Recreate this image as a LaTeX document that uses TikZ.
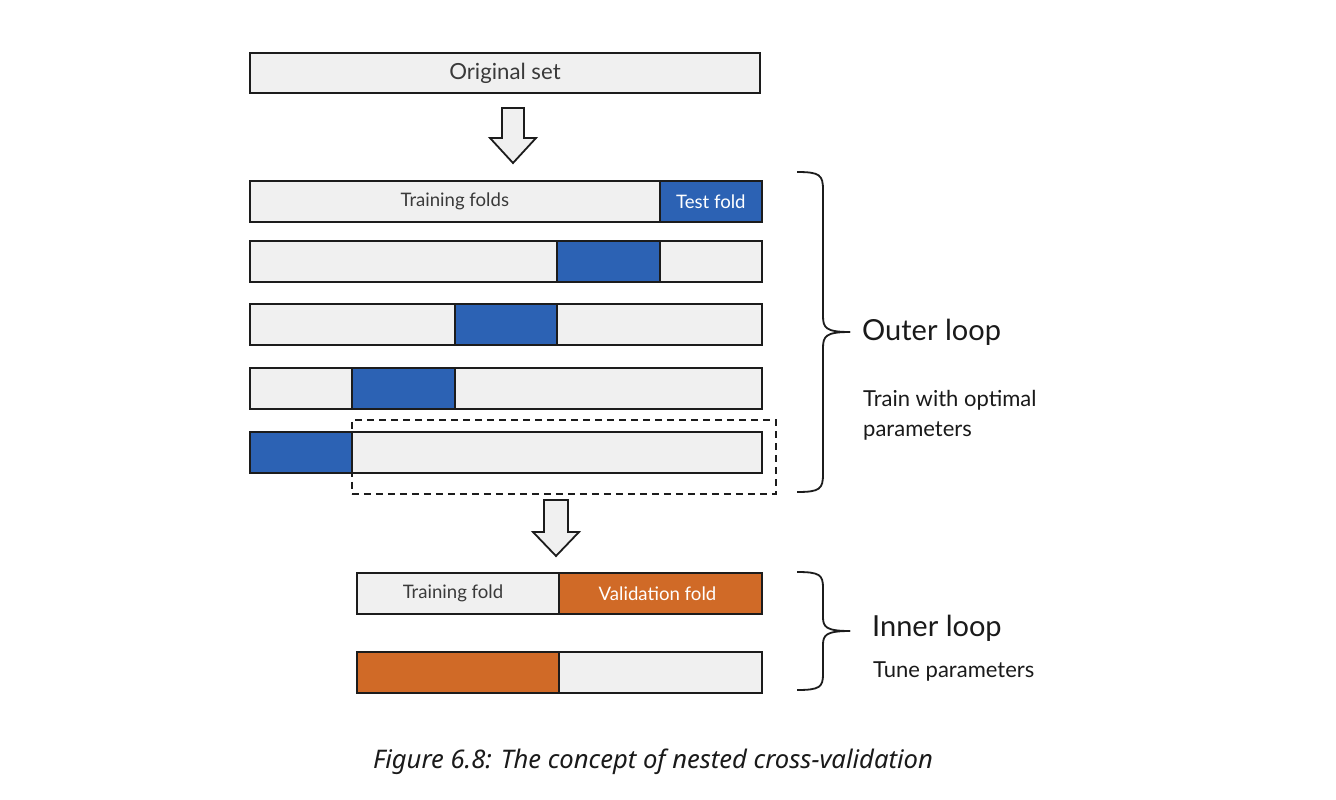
\documentclass[tikz,border=0pt]{standalone}
\usepackage{fontspec}
\setmainfont{Lato}
\newfontfamily\capfont{Noto Sans}
\definecolor{boxfill}{HTML}{F0F0F0}
\definecolor{foldblue}{HTML}{2C62B4}
\definecolor{foldorange}{HTML}{D06A27}
\definecolor{edgecol}{HTML}{1C1C1C}
\definecolor{boxtext}{HTML}{3A3A3A}
\definecolor{labtext}{HTML}{1A1A1A}
\tikzset{
  seg/.style={draw=edgecol, line width=2pt, fill=boxfill, anchor=north west, inner sep=0pt,
    minimum height=41pt, text=boxtext, font=\fontsize{18.6}{20}\selectfont},
  testseg/.style={seg, fill=foldblue, text=white},
  valseg/.style={seg, fill=foldorange, text=white},
  blockarrow/.style={draw=edgecol, line width=1.8pt, fill=boxfill, line join=miter},
  bracepath/.style={draw=edgecol, line width=1.8pt},
  dashbox/.style={draw=edgecol, line width=1.8pt, dash pattern=on 7pt off 5pt, anchor=north west, inner sep=0pt},
  bigl/.style={anchor=west, inner sep=0pt, text=labtext, font=\fontsize{29}{32}\selectfont},
  smalll/.style={anchor=west, inner sep=0pt, text=labtext, align=left, font=\fontsize{22}{30}\selectfont}
}
\begin{document}
\begin{tikzpicture}[x=1pt,y=-1pt]
\fill[white] (0,0) rectangle (1336,800);
\useasboundingbox (0,0) rectangle (1336,800);

% original set
\node[seg, minimum width=510pt, minimum height=40pt, font=\fontsize{22.2}{24}\selectfont] (orig) at (249,52) {Original set};

% arrow 1
\coordinate (a1) at (513,108);
\draw[blockarrow] ([xshift=-11pt]a1) -- ++(0,30) -- ++(-12,0) -- ++(23,25) -- ++(23,-25) -- ++(-12,0) -- ++(0,-30) -- cycle;

% outer rows
\node[seg, minimum width=409.6pt] (r1a) at (249,180) {Training folds};
\node[testseg, minimum width=102.4pt] (r1b) at (658.6,180) {Test fold};

\node[seg, minimum width=307.2pt] (r2a) at (249,240) {};
\node[testseg, minimum width=102.4pt] (r2b) at (556.2,240) {};
\node[seg, minimum width=102.4pt] (r2c) at (658.6,240) {};

\node[seg, minimum width=204.8pt] (r3a) at (249,303) {};
\node[testseg, minimum width=102.4pt] (r3b) at (453.8,303) {};
\node[seg, minimum width=204.8pt] (r3c) at (556.2,303) {};

\node[seg, minimum width=102.4pt] (r4a) at (249,367) {};
\node[testseg, minimum width=102.4pt] (r4b) at (351.4,367) {};
\node[seg, minimum width=307.2pt] (r4c) at (453.8,367) {};

\node[testseg, minimum width=102.4pt] (r5a) at (249,431) {};
\node[seg, minimum width=409.6pt] (r5b) at (351.4,431) {};

% dashed selection
\node[dashbox, minimum width=424pt, minimum height=74pt] (sel) at (351,419) {};

% arrow 2
\coordinate (a2) at (556,500);
\draw[blockarrow] ([xshift=-12pt]a2) -- ++(0,32) -- ++(-11,0) -- ++(23,24) -- ++(23,-24) -- ++(-11,0) -- ++(0,-32) -- cycle;

% inner rows
\node[seg, minimum width=202pt] (i1a) at (356,572) {\hspace*{-10pt}Training fold};
\node[valseg, minimum width=203pt] (i1b) at (558,572) {\hspace*{-6pt}Validation fold};
\node[valseg, minimum width=202pt] (i2a) at (356,651) {};
\node[seg, minimum width=203pt] (i2b) at (558,651) {};

% outer brace
\coordinate (ob1) at (797,172);
\coordinate (obt) at (850,332);
\coordinate (ob2) at (797,492);
\draw[bracepath] (ob1) .. controls (820,172) and (823,175) .. (823,190) -- (823,316)
  .. controls (823,328) and (826,332) .. (obt);
\draw[bracepath] (ob2) .. controls (820,492) and (823,489) .. (823,474) -- (823,348)
  .. controls (823,336) and (826,332) .. (obt);

% inner brace
\coordinate (ib1) at (797,572);
\coordinate (ibt) at (850,631);
\coordinate (ib2) at (797,690);
\draw[bracepath] (ib1) .. controls (820,572) and (823,575) .. (823,588) -- (823,617)
  .. controls (823,627) and (826,631) .. (ibt);
\draw[bracepath] (ib2) .. controls (820,690) and (823,687) .. (823,674) -- (823,645)
  .. controls (823,635) and (826,631) .. (ibt);

% labels
\node[bigl] (outl) at (862,332) {Outer loop};
\node[smalll] (outs) at (863,415) {Train with optimal\\parameters};
\node[bigl] (innl) at (872,628) {Inner loop};
\node[smalll] (inns) at (873,671) {Tune parameters};

% caption
\node[inner sep=0pt, text=labtext, font=\capfont\itshape\fontsize{25.6}{28}\selectfont] (cap) at (653,762) {Figure 6.8: The concept of nested cross-validation};
\end{tikzpicture}
\end{document}
